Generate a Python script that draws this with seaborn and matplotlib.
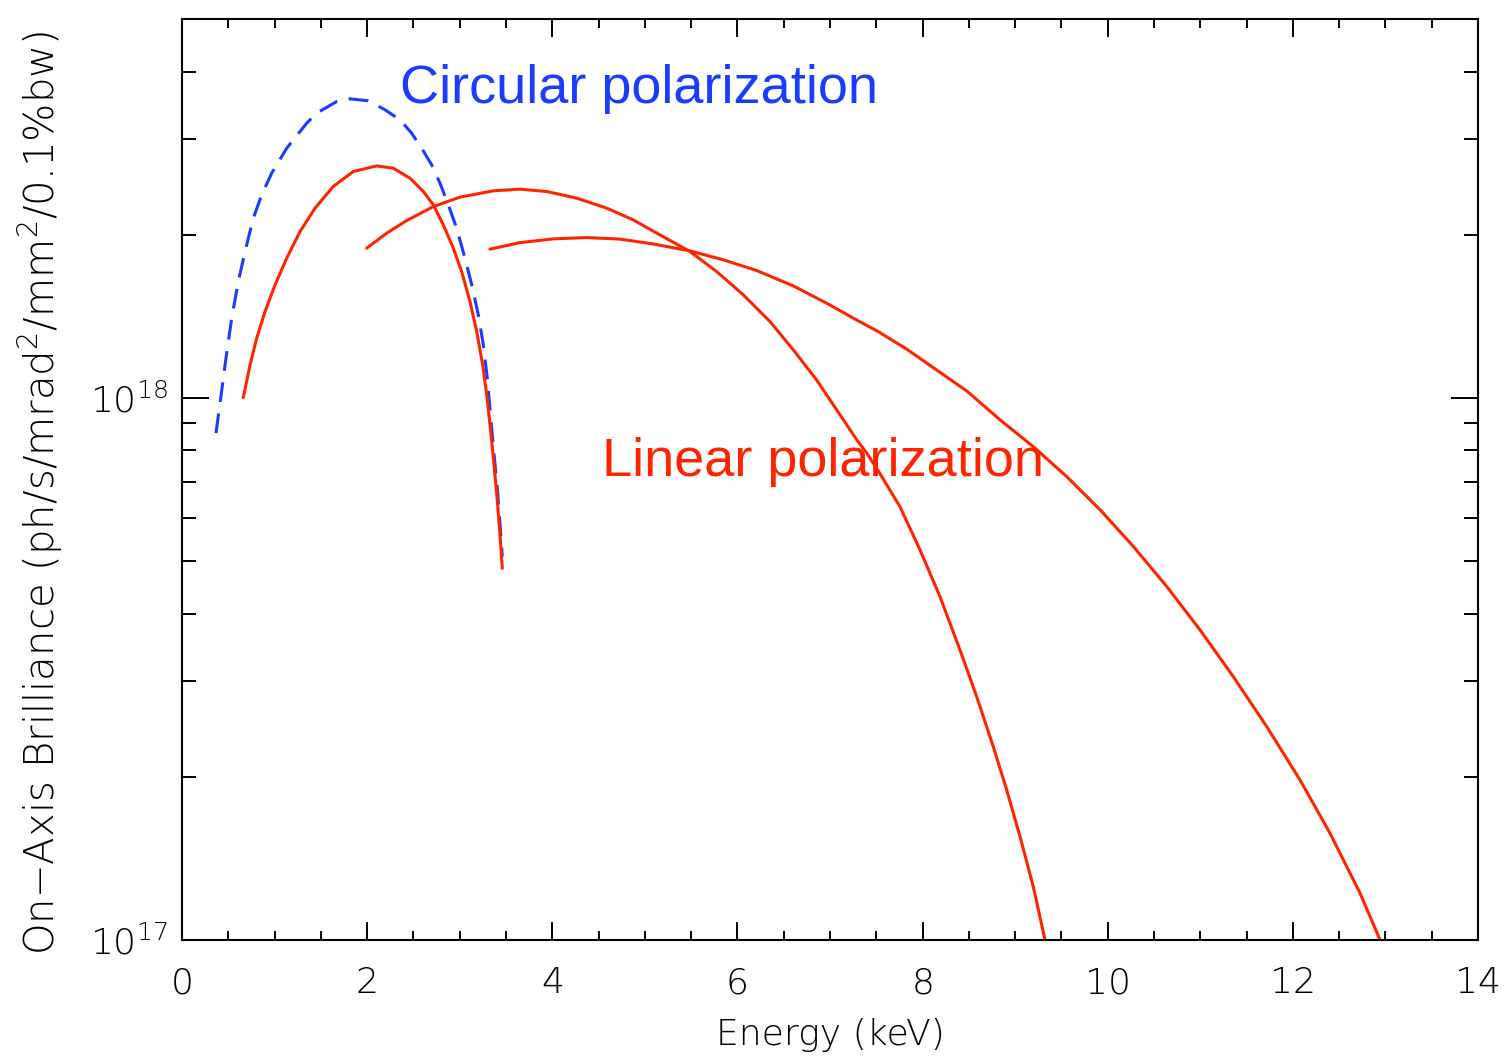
import numpy as np
import pandas as pd
import seaborn as sns
import matplotlib
matplotlib.use("Agg")
import matplotlib.pyplot as plt
from matplotlib.ticker import MultipleLocator, LogLocator, FixedLocator, FuncFormatter, NullFormatter

# ---- data: on-axis brilliance (ph/s/mrad^2/mm^2/0.1%bw) vs photon energy (keV) ----
circ_energy = [0.367, 0.418, 0.475, 0.537, 0.608, 0.681, 0.770, 0.861, 0.969, 1.131,
               1.347, 1.455, 1.671, 1.815, 2.013, 2.193, 2.355, 2.481, 2.589, 2.697,
               2.787, 2.877, 2.967, 3.057, 3.130, 3.201, 3.255, 3.298, 3.335, 3.370,
               3.410, 3.435, 3.460]
circ_brill = [8.61e17, 9.99e17, 1.184e18, 1.403e18, 1.639e18, 1.862e18, 2.145e18, 2.369e18, 2.598e18, 2.888e18,
              3.212e18, 3.352e18, 3.521e18, 3.562e18, 3.532e18, 3.400e18, 3.258e18, 3.078e18, 2.888e18, 2.691e18,
              2.489e18, 2.271e18, 2.056e18, 1.810e18, 1.616e18, 1.423e18, 1.253e18, 1.087e18, 9.20e17, 7.90e17,
              6.70e17, 5.85e17, 5.10e17]

lin1_energy = [0.662, 0.735, 0.807, 0.897, 1.005, 1.131, 1.275, 1.437, 1.634, 1.851,
               2.103, 2.283, 2.463, 2.607, 2.715, 2.823, 2.931, 3.021, 3.111, 3.184,
               3.248, 3.292, 3.335, 3.374, 3.410, 3.435, 3.460]
lin1_brill = [1.001e18, 1.151e18, 1.289e18, 1.443e18, 1.616e18, 1.810e18, 2.027e18, 2.239e18, 2.455e18, 2.616e18,
              2.679e18, 2.653e18, 2.543e18, 2.403e18, 2.271e18, 2.085e18, 1.889e18, 1.710e18, 1.506e18, 1.325e18,
              1.151e18, 1.013e18, 8.67e17, 7.42e17, 6.35e17, 5.59e17, 4.85e17]

lin2_energy = [1.995, 2.211, 2.427, 2.715, 3.003, 3.363, 3.651, 3.940, 4.264, 4.588,
               4.875, 5.164, 5.488, 5.776, 6.064, 6.352, 6.604, 6.856, 7.073, 7.289,
               7.397, 7.540, 7.756, 7.972, 8.188, 8.404, 8.585, 8.764, 8.909, 9.053,
               9.196, 9.323]
lin2_brill = [1.889e18, 2.013e18, 2.124e18, 2.254e18, 2.346e18, 2.410e18, 2.427e18, 2.403e18, 2.336e18, 2.239e18,
              2.130e18, 1.998e18, 1.862e18, 1.710e18, 1.549e18, 1.383e18, 1.226e18, 1.079e18, 9.50e17, 8.37e17,
              7.91e17, 7.25e17, 6.30e17, 5.244e17, 4.30e17, 3.428e17, 2.81e17, 2.273e17, 1.891e17, 1.551e17,
              1.254e17, 1.00e17]

lin3_energy = [3.327, 3.651, 4.011, 4.372, 4.732, 5.091, 5.488, 5.847, 6.208, 6.604,
               6.965, 7.252, 7.522, 7.829, 8.477, 8.837, 9.196, 9.557, 9.917, 10.277,
               10.637, 10.997, 11.357, 11.718, 12.077, 12.401, 12.726, 12.942]
lin3_brill = [1.881e18, 1.934e18, 1.965e18, 1.976e18, 1.963e18, 1.923e18, 1.867e18, 1.798e18, 1.718e18, 1.609e18,
              1.495e18, 1.403e18, 1.325e18, 1.230e18, 1.030e18, 9.11e17, 8.13e17, 7.16e17, 6.22e17, 5.32e17,
              4.49e17, 3.733e17, 3.06e17, 2.475e17, 1.974e17, 1.574e17, 1.22e17, 1.00e17]

x_ticks = [0, 2, 4, 6, 8, 10, 12, 14]
y_major = [1e17, 1e18]

BLUE = "#1a3cff"
RED = "#ff2400"

frames = []
for name, e, b in [("circular", circ_energy, circ_brill),
                   ("linear_1", lin1_energy, lin1_brill),
                   ("linear_2", lin2_energy, lin2_brill),
                   ("linear_3", lin3_energy, lin3_brill)]:
    frames.append(pd.DataFrame({"energy": e, "brilliance": b, "curve": name}))
df = pd.concat(frames, ignore_index=True)

sns.set_style("ticks")
plt.rcParams["font.family"] = ["DejaVu Sans"]
plt.rcParams["font.weight"] = "light"
plt.rcParams["axes.labelweight"] = "light"
plt.rcParams["text.color"] = "black"
plt.rcParams["axes.labelcolor"] = "black"
plt.rcParams["xtick.color"] = "black"
plt.rcParams["ytick.color"] = "black"
plt.rcParams["axes.edgecolor"] = "black"

fig = plt.figure(figsize=(15.12, 10.62), dpi=100)
ax = fig.add_axes([0.12037, 0.11488, 0.85714, 0.86723])
ax.set_yscale("log")

palette = {"circular": BLUE, "linear_1": RED, "linear_2": RED, "linear_3": RED}
dashes = {"circular": (6.5, 3.8), "linear_1": "", "linear_2": "", "linear_3": ""}
sns.lineplot(data=df, x="energy", y="brilliance", hue="curve", style="curve",
             palette=palette, dashes=dashes, sort=False, estimator=None,
             legend=False, lw=2.2, ax=ax)

ax.set_xlim(0, 14)
ax.set_ylim(1e17, 5e18)

# ticks: inward on all four sides
ax.xaxis.set_major_locator(FixedLocator(x_ticks))
ax.xaxis.set_minor_locator(MultipleLocator(0.5))
ax.yaxis.set_major_locator(FixedLocator(y_major))
ax.yaxis.set_minor_locator(LogLocator(base=10, subs=np.arange(2, 10)))
ax.yaxis.set_minor_formatter(NullFormatter())
ax.yaxis.set_major_formatter(FuncFormatter(
    lambda v, _: r"$\mathregular{10^{%d}}$" % int(round(np.log10(v)))))
ax.xaxis.set_major_formatter(FuncFormatter(lambda v, _: "%d" % v))

ax.tick_params(axis="x", which="major", direction="in", length=13, width=1.4,
               top=True, bottom=True, labelsize=26, pad=19)
ax.tick_params(axis="x", which="minor", direction="in", length=6.5, width=1.4,
               top=True, bottom=True)
ax.tick_params(axis="y", which="major", direction="in", length=19.5, width=1.4,
               left=True, right=True, labelsize=26, pad=10)
ax.tick_params(axis="y", which="minor", direction="in", length=10, width=1.4,
               left=True, right=True)
for s in ax.spines.values():
    s.set_linewidth(1.5)
    s.set_color("black")

ax.set_xlabel("Energy (keV)", fontsize=26, va="center")
ax.xaxis.set_label_coords(0.5, -0.103)
ax.set_ylabel("On\u2212Axis Brilliance (ph/s/mrad$\\mathregular{^2}$/mm$\\mathregular{^2}$/0.1%bw)",
              fontsize=29, rotation=90, rotation_mode="anchor", ha="left", va="center")
ax.yaxis.set_label_coords(-0.1096, -0.0163)

ax.text(2.355, 3.50e18, "Circular polarization", color=BLUE, fontsize=39,
        family="Liberation Sans", weight="normal", ha="left", va="baseline")
ax.text(4.537, 7.18e17, "Linear polarization", color=RED, fontsize=39,
        family="Liberation Sans", weight="normal", ha="left", va="baseline")

fig.savefig("out.png", dpi=100, facecolor="white")
